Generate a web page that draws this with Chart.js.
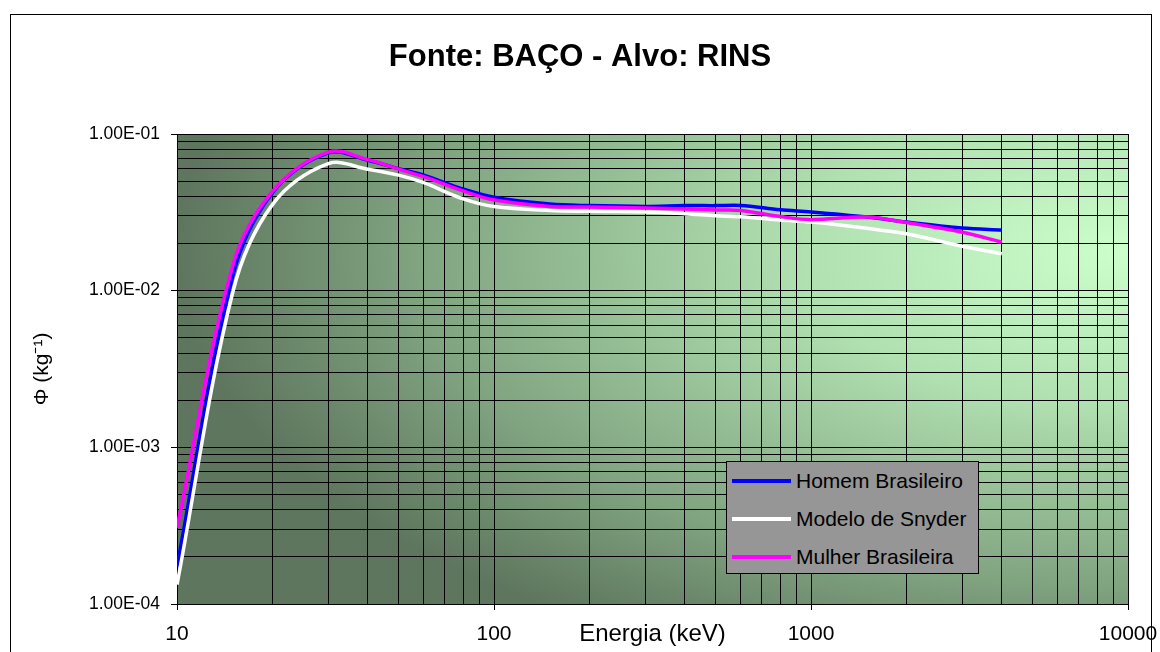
<!DOCTYPE html>
<html>
<head>
<meta charset="utf-8">
<script src="https://cdn.jsdelivr.net/npm/chart.js@4.4.0/dist/chart.umd.min.js"></script>
<style>
  html, body { margin: 0; padding: 0; background: #fff; overflow: hidden; }
  #wrap { position: relative; width: 1160px; height: 652px; }
  #frame { position: absolute; left: 10px; top: 14px; width: 1140px; height: 700px; border: 1px solid #000; pointer-events: none; }
  #legendBox { position: absolute; left: 726px; top: 461px; width: 253px; height: 113px; box-sizing: border-box;
    background: #969696; border: 1px solid #000; font-family: "Liberation Sans", Arial, sans-serif; font-size: 21px; color: #000; }
  .legendRow { position: absolute; left: 0; height: 24px; display: flex; align-items: center; white-space: nowrap; }
  .legendLine { display: inline-block; width: 59px; height: 4px; margin-left: 5px; margin-right: 5px; }
</style>
</head>
<body>
<div id="wrap">
  <canvas id="dosePlot" width="1160" height="652"></canvas>
  <div id="frame"></div>
  <div id="legendBox"></div>
</div>
<script>
const energias = [10, 15, 20, 30, 40, 50, 60, 80, 100, 150, 200, 300, 400, 500, 600, 800, 1000, 1500, 2000, 3000, 4000];
const homemBrasileiro = [1.74e-4, 0.0125, 0.0421, 0.0757, 0.0680, 0.0601, 0.0546, 0.0445, 0.0395, 0.0357, 0.0349, 0.0345, 0.0349, 0.0349, 0.0350, 0.0328, 0.0318, 0.0295, 0.0274, 0.0251, 0.0244];
const modeloSnyder = [1.33e-4, 0.0098, 0.0354, 0.0646, 0.0596, 0.0546, 0.0489, 0.0385, 0.0344, 0.0325, 0.0321, 0.0318, 0.0310, 0.0301, 0.0296, 0.0282, 0.0274, 0.0250, 0.0231, 0.0192, 0.0172];
const mulherBrasileira = [3.07e-4, 0.0145, 0.0430, 0.0767, 0.0686, 0.0597, 0.0534, 0.0433, 0.0379, 0.0345, 0.0342, 0.0337, 0.0332, 0.0327, 0.0325, 0.0297, 0.0284, 0.0295, 0.0272, 0.0236, 0.0204];

const xDecadas = [10, 100, 1000, 10000];
const xRotulos = ['10', '100', '1000', '10000'];
const yDecadas = [1e-4, 1e-3, 1e-2, 1e-1];
const yRotulos = ['1.00E-04', '1.00E-03', '1.00E-02', '1.00E-01'];

const fonte = '"Liberation Sans", Arial, sans-serif';
const toPoints = (vals) => energias.map((e, i) => ({ x: e, y: vals[i] }));

// excel style log grid: a line at 1..9 of every decade
const logGridTicks = (decadas) => {
    const ticks = [];
    for (let i = 0; i < decadas.length - 1; i++) {
        for (let k = 1; k < 10; k++) ticks.push({ value: decadas[i] * k, major: k === 1 });
    }
    ticks.push({ value: decadas[decadas.length - 1], major: true });
    return ticks;
};

const rotulo = (decadas, rotulos) => (value) => {
    const i = decadas.findIndex(d => Math.abs(value / d - 1) < 1e-6);
    return i >= 0 ? rotulos[i] : '';
};

const majorTickColor = (c) => (c.tick && c.tick.major ? '#000' : 'rgba(0,0,0,0)');

const plotBackground = {
    id: 'plotBackground',
    beforeDraw(chart) {
        const { ctx, chartArea: a } = chart;
        const w = a.right - a.left, h = a.bottom - a.top;
        const rx = w * 1.0, ry = h * 0.95;
        ctx.save();
        ctx.beginPath();
        ctx.rect(a.left, a.top, w, h);
        ctx.clip();
        ctx.translate(a.right, a.top + h * 0.25);
        ctx.scale(1, ry / rx);
        const g = ctx.createRadialGradient(0, 0, 0, 0, 0, rx);
        g.addColorStop(0, '#ccffcc');
        g.addColorStop(0.35, '#b0dfb0');
        g.addColorStop(0.75, '#80a380');
        g.addColorStop(1, '#5e765e');
        ctx.fillStyle = g;
        ctx.fillRect(-rx * 3, -rx * 3, rx * 6, rx * 6);
        ctx.restore();
    }
};

const ctx = document.getElementById('dosePlot').getContext('2d');
const chart = new Chart(ctx, {
    type: 'line',
    data: {
        datasets: [
            { label: 'Homem Brasileiro', data: toPoints(homemBrasileiro), borderColor: '#0000ff', order: 3 },
            { label: 'Modelo de Snyder', data: toPoints(modeloSnyder), borderColor: '#ffffff', order: 2 },
            { label: 'Mulher Brasileira', data: toPoints(mulherBrasileira), borderColor: '#ff00ff', order: 1 }
        ]
    },
    options: {
        responsive: false,
        devicePixelRatio: 1,
        animation: false,
        layout: { padding: 0 },
        elements: {
            line: { borderWidth: 3.5, tension: 0.35, fill: false },
            point: { radius: 0 }
        },
        plugins: {
            legend: { display: false },
            tooltip: { enabled: false },
            title: {
                display: true,
                text: 'Fonte: BAÇO - Alvo: RINS',
                color: '#000',
                font: { family: fonte, size: 31, weight: 'bold', lineHeight: 1.2 },
                padding: { top: 38.4, bottom: 58.4 }
            }
        },
        scales: {
            x: {
                type: 'logarithmic',
                min: 10,
                max: 10000,
                afterBuildTicks: (s) => { s.ticks = logGridTicks(xDecadas); },
                // right margin comes from the scale padding so the title stays centred on the page
                afterFit: (s) => { s.height = 48; s.paddingLeft = 0; s.paddingRight = 32; },
                grid: { color: '#000', lineWidth: 1, tickLength: 6, tickColor: majorTickColor },
                border: { color: '#000', width: 1 },
                ticks: {
                    autoSkip: false, maxRotation: 0, padding: 12, color: '#000',
                    font: { family: fonte, size: 21 },
                    callback: rotulo(xDecadas, xRotulos)
                },
                title: {
                    display: true, text: 'Energia (keV)', color: '#000',
                    font: { family: fonte, size: 24, lineHeight: 1.2 },
                    padding: { top: 0, bottom: 3 }
                }
            },
            y: {
                type: 'logarithmic',
                min: 1e-4,
                max: 1e-1,
                afterBuildTicks: (s) => { s.ticks = logGridTicks(yDecadas); },
                afterFit: (s) => { s.width = 177; s.paddingTop = 0; s.paddingBottom = 0; },
                grid: { color: '#000', lineWidth: 1, tickLength: 6, tickColor: majorTickColor },
                border: { color: '#000', width: 1 },
                ticks: {
                    autoSkip: false, padding: 11, color: '#000',
                    font: { family: fonte, size: 17.5 },
                    callback: rotulo(yDecadas, yRotulos)
                },
                title: {
                    display: true, text: 'Φ (kg⁻¹)', color: '#000',
                    font: { family: fonte, size: 21, lineHeight: 1.2 },
                    padding: { top: 30, bottom: 0 }
                }
            }
        }
    },
    plugins: [plotBackground]
});

// legend box inside the plot, like the excel one
const legendBox = document.getElementById('legendBox');
chart.data.datasets.forEach((ds, i) => {
    const row = document.createElement('div');
    row.className = 'legendRow';
    row.style.top = (7 + i * 38) + 'px';
    const line = document.createElement('span');
    line.className = 'legendLine';
    line.style.background = ds.borderColor;
    const txt = document.createElement('span');
    txt.textContent = ds.label;
    row.append(line, txt);
    legendBox.appendChild(row);
});
</script>
</body>
</html>
